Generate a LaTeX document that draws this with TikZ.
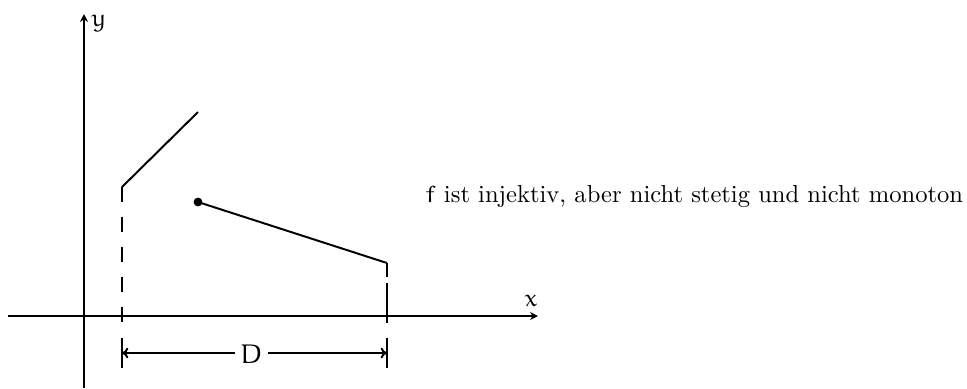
\documentclass[tikz,border=0pt]{standalone}
\usepackage{euler}
\usetikzlibrary{arrows.meta}
\begin{document}
\begin{tikzpicture}[x=0.407pt,y=-0.407pt,
  ln/.style={line width=0.8pt},
  axarrow/.style={-{Stealth[length=3.2pt,width=3.2pt,inset=1pt]}},
  dsh/.style={ln,dash pattern=on 6.1pt off 6.1pt},
  lbl/.style={inner sep=1pt}]
\useasboundingbox (0,0) rectangle (967,388);
% axes
\coordinate (xs) at (8,316);
\coordinate (xe) at (538,316);
\coordinate (ys) at (84,388);
\coordinate (ye) at (84,14);
\draw[ln,axarrow] (xs) -- (xe);
\draw[ln,axarrow] (ys) -- (ye);
\node[lbl] (xl) at (531,301) {$x$};
\node[lbl] (yl) at (99,23) {$y$};
% graph pieces
\coordinate (a0) at (122,323);
\coordinate (a1) at (122,187);
\coordinate (a2) at (198,112);
\coordinate (b0) at (387,323);
\coordinate (b1) at (387,263);
\node[circle,fill,inner sep=0pt,minimum size=3.6pt] (p) at (198,202) {};
\draw[dsh] (a1) -- (a0);
\draw[ln] (a1) -- (a2);
\draw[ln] (p.center) -- (b1);
\draw[ln,dash pattern=on 5.7pt off 2.4pt on 16.3pt off 4pt] (b1) -- (b0);
% dimension D
\coordinate (l1) at (122,338);
\coordinate (l2) at (122,368);
\coordinate (r1) at (387,338);
\coordinate (r2) at (387,368);
\draw[ln] (l1) -- (l2);
\draw[ln] (r1) -- (r2);
\coordinate (lm) at (122,353);
\coordinate (rm) at (387,353);
\draw[ln,{To[length=2.6pt,width=4.4pt]}-{To[length=2.6pt,width=4.4pt]}] (lm) -- (rm);
\node[fill=white,inner sep=2pt,font=\fontsize{11}{13}\selectfont] (D) at (251.5,354) {$D$};
% text
\node[anchor=west,inner sep=0pt] (t) at (425,196) {$f$ ist injektiv, aber nicht stetig und nicht monoton};
\end{tikzpicture}
\end{document}
